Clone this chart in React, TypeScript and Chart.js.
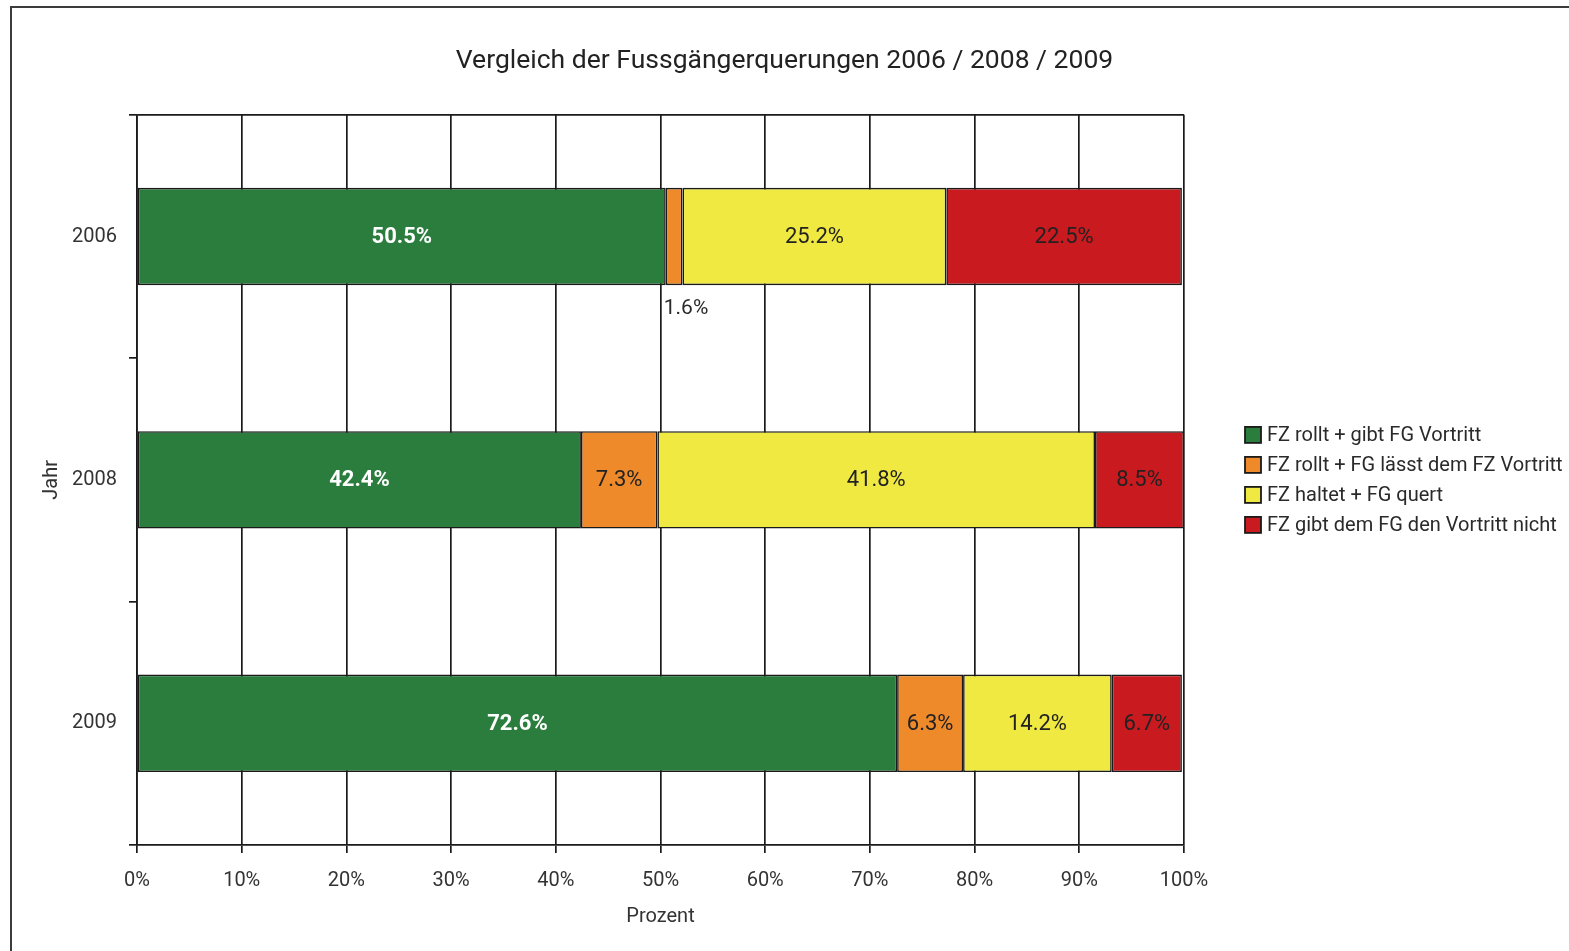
import React, { useEffect, useRef } from "react";
import { Chart, registerables } from "chart.js";

Chart.register(...registerables);

const years = ["2006", "2008", "2009"];
const rolltGibt = [50.5, 42.4, 72.6];
const rolltLaesst = [1.6, 7.3, 6.3];
const haltetQuert = [25.2, 41.8, 14.2];
const gibtNicht = [22.5, 8.5, 6.7];
const seriesNames = [
  "FZ rollt + gibt FG Vortritt",
  "FZ rollt + FG lässt dem FZ Vortritt",
  "FZ haltet + FG quert",
  "FZ gibt dem FG den Vortritt nicht",
];
const seriesColors = ["#2a7d3c", "#ef8a2b", "#efe941", "#c91a20"];
const xTicks = [0, 10, 20, 30, 40, 50, 60, 70, 80, 90, 100];
const titleText = "Vergleich der Fussgängerquerungen 2006 / 2008 / 2009";
const xTitle = "Prozent";
const yTitle = "Jahr";

const LINE = "#1a1a1a";
const FONT = "Roboto";

const labelPlugin = {
  id: "barLabels",
  afterDatasetsDraw(chart: any) {
    const ctx = chart.ctx;
    ctx.save();
    chart.data.datasets.forEach((ds: any, di: number) => {
      const meta = chart.getDatasetMeta(di);
      meta.data.forEach((el: any, i: number) => {
        const v = ds.data[i];
        const txt = v.toFixed(1) + "%";
        const p = el.getProps(["x", "y", "base", "height"], true);
        if (v < 3) {
          ctx.font = `normal 21px ${FONT}`;
          ctx.fillStyle = "#2a2a2a";
          ctx.textAlign = "left";
          ctx.textBaseline = "middle";
          ctx.fillText(txt, p.base - 2, p.y + p.height / 2 + 24);
        } else {
          const bold = di === 0;
          ctx.font = `${bold ? "bold" : "normal"} 22px ${FONT}`;
          ctx.fillStyle = bold ? "#ffffff" : "#222222";
          ctx.textAlign = "center";
          ctx.textBaseline = "middle";
          ctx.fillText(txt, (p.x + p.base) / 2, p.y + 1);
        }
      });
    });
    ctx.restore();
  },
};

const legendPlugin = {
  id: "sideLegend",
  afterDraw(chart: any) {
    const ctx = chart.ctx;
    const area = chart.chartArea;
    const x0 = area.right + 61;
    const yMid = (area.top + area.bottom) / 2;
    const n = chart.data.datasets.length;
    const step = 30;
    ctx.save();
    ctx.font = `normal 20px ${FONT}`;
    ctx.textAlign = "left";
    ctx.textBaseline = "middle";
    chart.data.datasets.forEach((ds: any, i: number) => {
      const y = yMid - ((n - 1) * step) / 2 + i * step;
      ctx.fillStyle = ds.backgroundColor;
      ctx.fillRect(x0, y - 8, 16, 16);
      ctx.lineWidth = 1.8;
      ctx.strokeStyle = LINE;
      ctx.strokeRect(x0, y - 8, 16, 16);
      ctx.fillStyle = "#2a2a2a";
      ctx.fillText(ds.label, x0 + 22, y + 1);
    });
    ctx.restore();
  },
};

export default function App() {
  const ref = useRef<HTMLCanvasElement>(null);

  useEffect(() => {
    if (!ref.current) return;
    Chart.defaults.font.family = FONT;
    const values = [rolltGibt, rolltLaesst, haltetQuert, gibtNicht];
    const chart = new Chart(ref.current, {
      type: "bar",
      data: {
        labels: years,
        datasets: values.map((d, i) => ({
          label: seriesNames[i],
          data: d,
          backgroundColor: seriesColors[i],
          borderColor: LINE,
          borderWidth: 1.6,
          borderSkipped: false,
          categoryPercentage: 1,
          barPercentage: 0.4,
        })),
      },
      options: {
        indexAxis: "y",
        animation: false,
        responsive: false,
        maintainAspectRatio: false,
        layout: { padding: 0 },
        plugins: {
          legend: { display: false },
          tooltip: { enabled: false },
          title: {
            display: true,
            text: titleText,
            color: "#222",
            font: { size: 26.5, family: FONT, weight: "normal", lineHeight: 1.2 },
            padding: { top: 45, bottom: 38 },
          },
        },
        scales: {
          x: {
            type: "linear",
            stacked: true,
            min: 0,
            max: 100,
            afterBuildTicks: (s: any) => {
              s.ticks = xTicks.map((v) => ({ value: v }));
            },
            afterFit: (s: any) => {
              s.height = 106;
            },
            ticks: {
              color: "#333",
              font: { size: 20, family: FONT },
              padding: 16,
              maxRotation: 0,
              callback: (v: any) => v + "%",
            },
            grid: {
              color: LINE,
              lineWidth: 1.7,
              tickLength: 8,
              tickColor: LINE,
            },
            border: { display: true, color: LINE, width: 1.7 },
            title: {
              display: true,
              text: xTitle,
              color: "#333",
              font: { size: 20, family: FONT, lineHeight: 1.2 },
              padding: { top: 0, bottom: 22 },
            },
          },
          y: {
            type: "category",
            stacked: true,
            position: "left",
            afterFit: (s: any) => {
              s.width = 137;
            },
            ticks: {
              color: "#333",
              font: { size: 20, family: FONT },
              padding: 12,
            },
            grid: {
              offset: true,
              drawOnChartArea: true,
              color: (c: any) => (c.index === 0 ? LINE : "rgba(0,0,0,0)"),
              lineWidth: 1.7,
              tickLength: 8,
              tickColor: LINE,
              tickWidth: 1.7,
            },
            border: { display: true, color: LINE, width: 1.7 },
            title: {
              display: true,
              text: yTitle,
              color: "#333",
              font: { size: 20, family: FONT, lineHeight: 1.2 },
              padding: { top: 40, bottom: 0 },
            },
          },
          yR: {
            type: "category",
            position: "right",
            display: true,
            afterFit: (s: any) => {
              s.width = 385;
            },
            ticks: { display: false },
            grid: { display: false, drawTicks: false },
            border: { display: false },
          },
        },
      } as any,
      plugins: [labelPlugin, legendPlugin],
    });
    return () => chart.destroy();
  }, []);

  return (
    <div
      style={{
        position: "fixed",
        left: 0,
        top: 0,
        width: 1569,
        height: 951,
        overflow: "hidden",
        background: "#fff",
      }}
    >
      <canvas
        ref={ref}
        width={1569}
        height={951}
        style={{ position: "absolute", left: 0, top: 0, width: 1569, height: 951 }}
      />
      <div
        style={{
          position: "absolute",
          left: 10,
          top: 6,
          width: 1600,
          height: 1000,
          borderLeft: "2px solid #3c3c3c",
          borderTop: "2px solid #3c3c3c",
          pointerEvents: "none",
        }}
      />
    </div>
  );
}
